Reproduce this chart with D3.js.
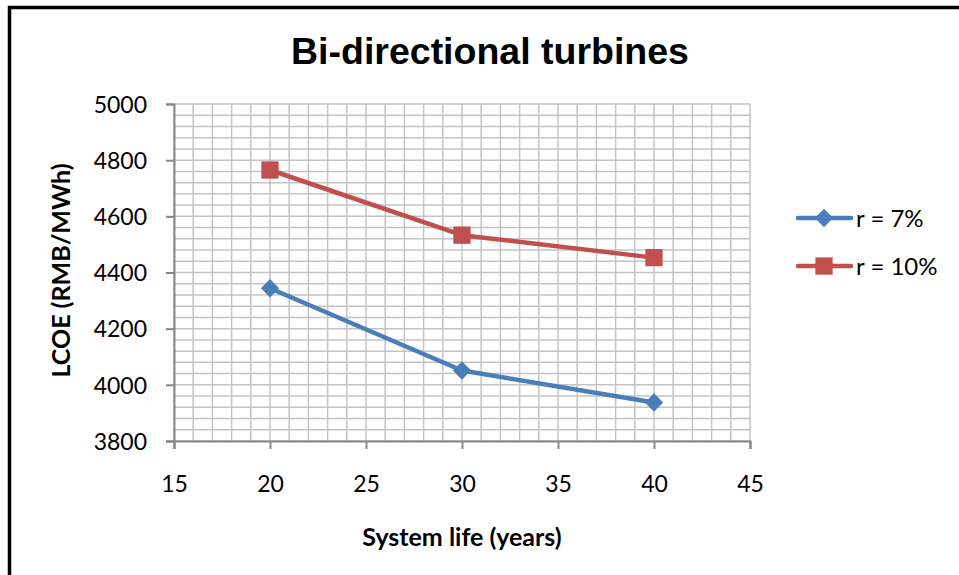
<!DOCTYPE html>
<html>
<head>
<meta charset="utf-8">
<script src="https://cdn.jsdelivr.net/npm/d3@7"></script>
<style>
  html, body { margin: 0; padding: 0; background: #fff; }
  svg { display: block; }
</style>
</head>
<body>
<svg id="chart" width="959" height="575"></svg>
<script>
// LCOE of bi-directional turbines against system life, for two discount rates
const systemLife = [20, 30, 40];
const lcoeR7 = [4344, 4051, 3937];
const lcoeR10 = [4765, 4533, 4453];
const seriesNames = ["r = 7%", "r = 10%"];
const xTicks = [15, 20, 25, 30, 35, 40, 45];
const yTicks = [3800, 4000, 4200, 4400, 4600, 4800, 5000];

const svg = d3.select("#chart");
const W = 959, H = 575;
const plot = { left: 174, top: 104, right: 750, bottom: 441 };

const x = d3.scaleLinear().domain([15, 45]).range([plot.left, plot.right]);
const y = d3.scaleLinear().domain([3800, 5000]).range([plot.bottom, plot.top]);

// outer frame
svg.append("rect")
  .attr("x", 9.5).attr("y", 7.5)
  .attr("width", W + 20).attr("height", H + 20)
  .attr("fill", "none").attr("stroke", "#000").attr("stroke-width", 3.5);

// title
svg.append("text")
  .attr("x", 490).attr("y", 64)
  .attr("text-anchor", "middle")
  .attr("font-family", "Liberation Sans, Arial, sans-serif")
  .attr("font-weight", "bold").attr("font-size", 37.5)
  .text("Bi-directional turbines");

// minor + major gridlines
const grid = svg.append("g").attr("stroke", "#c4c4c4").attr("stroke-width", 1.5);
const xMinor = d3.range(15, 45.001, 1);
const yMinor = d3.range(3800, 5000.001, 40);
grid.selectAll("line.v").data(xMinor).join("line")
  .attr("x1", d => x(d)).attr("x2", d => x(d))
  .attr("y1", plot.top).attr("y2", plot.bottom);
grid.selectAll("line.h").data(yMinor).join("line")
  .attr("x1", plot.left).attr("x2", plot.right)
  .attr("y1", d => y(d)).attr("y2", d => y(d));

// axes
const tickFont = "Lato, 'Open Sans', sans-serif";
const xAxis = svg.append("g")
  .attr("transform", `translate(0,${plot.bottom})`)
  .call(d3.axisBottom(x).tickValues(xTicks).tickSize(8).tickPadding(27).tickFormat(d3.format("d")));
const yAxis = svg.append("g")
  .attr("transform", `translate(${plot.left},0)`)
  .call(d3.axisLeft(y).tickValues(yTicks).tickSize(8).tickPadding(19).tickFormat(d3.format("d")));
[xAxis, yAxis].forEach(a => {
  a.select(".domain").attr("stroke", "#868686").attr("stroke-width", 2);
  a.selectAll(".tick line").attr("stroke", "#868686").attr("stroke-width", 2);
  a.selectAll(".tick text")
    .attr("fill", "#000")
    .attr("font-family", tickFont)
    .attr("font-size", 23);
});
yAxis.selectAll(".tick text").attr("dy", "0.36em");

// axis titles
svg.append("text")
  .attr("x", (plot.left + plot.right) / 2).attr("y", 546)
  .attr("text-anchor", "middle")
  .attr("font-family", tickFont).attr("font-weight", "bold").attr("font-size", 25)
  .text("System life (years)");
svg.append("text")
  .attr("transform", `translate(70,${(plot.top + plot.bottom) / 2 - 2}) rotate(-90)`)
  .attr("text-anchor", "middle")
  .attr("font-family", tickFont).attr("font-weight", "bold").attr("font-size", 25)
  .text("LCOE (RMB/MWh)");

// series
const series = [
  { name: seriesNames[0], values: lcoeR7, color: "#4a7ebb", symbol: d3.symbolDiamond2, size: 215 },
  { name: seriesNames[1], values: lcoeR10, color: "#c0504d", symbol: d3.symbolSquare2, size: 380 }
];
const line = d3.line().x(d => x(d[0])).y(d => y(d[1]));

series.forEach(s => {
  const pts = systemLife.map((v, i) => [v, s.values[i]]);
  svg.append("path")
    .attr("d", line(pts))
    .attr("fill", "none").attr("stroke", s.color)
    .attr("stroke-width", 4.5).attr("stroke-linejoin", "round").attr("stroke-linecap", "round");
  svg.append("g").selectAll("path").data(pts).join("path")
    .attr("transform", d => `translate(${x(d[0])},${y(d[1])})`)
    .attr("d", d3.symbol().type(s.symbol).size(s.size))
    .attr("fill", s.color);
});

// legend
const legend = svg.append("g");
series.forEach((s, i) => {
  const ly = 218 + i * 48;
  legend.append("line")
    .attr("x1", 798).attr("x2", 851).attr("y1", ly).attr("y2", ly)
    .attr("stroke", s.color).attr("stroke-width", 4.5).attr("stroke-linecap", "round");
  legend.append("path")
    .attr("transform", `translate(824,${ly})`)
    .attr("d", d3.symbol().type(s.symbol).size(s.size))
    .attr("fill", s.color);
  legend.append("text")
    .attr("x", 856).attr("y", ly).attr("dy", "0.36em")
    .attr("font-family", tickFont).attr("font-size", 24)
    .text(s.name);
});
</script>
</body>
</html>
